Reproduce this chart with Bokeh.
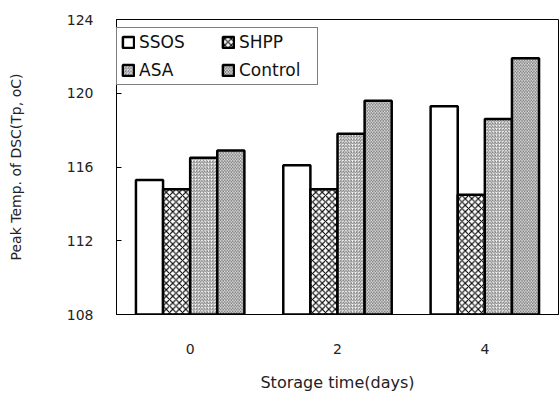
from bokeh.plotting import figure
from bokeh.models import FactorRange, Range1d, ColumnDataSource, LinearAxis, FixedTicker
from bokeh.transform import dodge
from bokeh.embed import file_html
from bokeh.resources import INLINE

days = ["0", "2", "4"]
series = ["SSOS", "SHPP", "ASA", "Control"]
ssos = [115.3, 116.1, 119.3]
shpp = [114.8, 114.8, 114.5]
asa = [116.5, 117.8, 118.6]
control = [116.9, 119.6, 121.9]
y_ticks = [108, 112, 116, 120, 124]

values = {"SSOS": ssos, "SHPP": shpp, "ASA": asa, "Control": control}
hatches = {"SSOS": " ", "SHPP": "diagonal_cross", "ASA": "right_diagonal_line", "Control": "left_diagonal_line"}
hscale = {"SSOS": 4, "SHPP": 6.5, "ASA": 3.2, "Control": 3.2}
hweight = {"SSOS": 1, "SHPP": 1.1, "ASA": 0.55, "Control": 0.55}

FONT = "DejaVu Sans"

p = figure(width=560, height=394, output_backend="svg", toolbar_location=None,
           x_range=FactorRange(factors=days, range_padding=0),
           y_range=Range1d(108, 124),
           min_border_left=116, min_border_right=2, min_border_top=19, min_border_bottom=79)

src = ColumnDataSource(dict(days=days, **values))
w = 0.184
offsets = [-1.5 * w, -0.5 * w, 0.5 * w, 1.5 * w]
for s, off in zip(series, offsets):
    p.vbar(x=dodge("days", off, range=p.x_range), top=s, bottom=108, width=w, source=src,
           fill_color="white", line_color="black", line_width=2.5,
           hatch_pattern=hatches[s], hatch_color="black", hatch_scale=hscale[s],
           hatch_weight=hweight[s], legend_label=s)

p.xgrid.visible = False
p.ygrid.visible = False
p.outline_line_color = "black"
p.outline_line_width = 1

p.yaxis.ticker = FixedTicker(ticks=y_ticks)
p.yaxis.major_tick_in = 5
p.yaxis.major_tick_out = 0
p.yaxis.minor_tick_line_color = None
p.yaxis.major_label_standoff = 23
p.yaxis.major_label_text_font = FONT
p.yaxis.major_label_text_font_size = "14px"
p.yaxis.major_label_text_color = "#222222"
p.yaxis.axis_line_color = "black"

# axis carrying only the y title, bounded so the title sits a little above centre
ylab_axis = LinearAxis(ticker=FixedTicker(ticks=[]), bounds=(111.24, 124),
                       axis_label="Peak Temp. of DSC(Tp, oC)",
                       axis_line_color=None, major_tick_line_color=None,
                       minor_tick_line_color=None, axis_label_standoff=40,
                       axis_label_text_font=FONT, axis_label_text_font_size="14px",
                       axis_label_text_font_style="normal", axis_label_text_color="#222222")
p.add_layout(ylab_axis, "left")

p.xaxis.major_tick_line_color = None
p.xaxis.major_label_standoff = 23
p.xaxis.major_label_text_font = FONT
p.xaxis.major_label_text_font_size = "14px"
p.xaxis.major_label_text_color = "#222222"
p.xaxis.axis_label = "Storage time(days)"
p.xaxis.axis_label_text_font = FONT
p.xaxis.axis_label_text_font_size = "16px"
p.xaxis.axis_label_text_font_style = "normal"
p.xaxis.axis_label_text_color = "#222222"
p.xaxis.axis_label_standoff = 16

lg = p.legend[0]
lg.orientation = "horizontal"
lg.ncols = 2
lg.location = (0, 229)
lg.border_line_color = "black"
lg.border_line_width = 1
lg.background_fill_color = "white"
lg.background_fill_alpha = 1
lg.padding = 4
lg.spacing = 8
lg.margin = 0
lg.glyph_width = 14
lg.glyph_height = 14
lg.label_standoff = 4
lg.label_width = 74
lg.label_text_font = FONT
lg.label_text_font_size = "17px"
lg.label_text_color = "#111111"

open("out.html", "w").write(file_html(p, INLINE))
